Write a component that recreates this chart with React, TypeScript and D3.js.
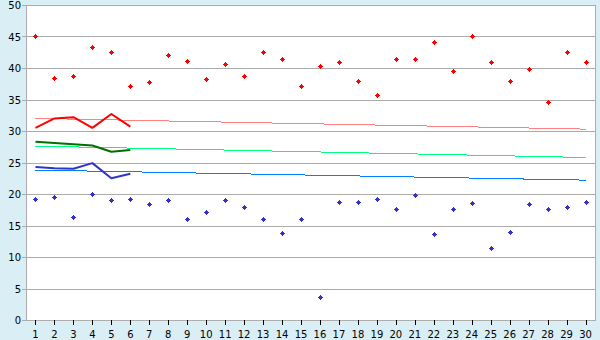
import React from "react";
import * as d3 from "d3";

const categories = d3.range(1, 31);
const redPoints = [45.0, 38.4, 38.8, 43.3, 42.5, 37.1, 37.7, 42.0, 41.1, 38.2, 40.7, 38.8, 42.5, 41.5, 37.1, 40.3, 41.0, 38.0, 35.7, 41.5, 41.5, 44.1, 39.5, 45.0, 41.0, 37.9, 39.8, 34.6, 42.5, 41.0];
const bluePoints = [19.2, 19.5, 16.3, 20.0, 19.0, 19.2, 18.4, 19.0, 16.0, 17.1, 19.0, 17.9, 16.0, 13.8, 16.0, 3.6, 18.8, 18.7, 19.2, 17.6, 19.8, 13.6, 17.6, 18.5, 11.5, 13.9, 18.4, 17.6, 17.9, 18.7];
const redLine = [30.5, 32.0, 32.2, 30.5, 32.7, 30.7];
const greenLine = [28.3, 28.1, 27.9, 27.7, 26.7, 27.0];
const blueLine = [24.3, 24.1, 24.0, 24.9, 22.5, 23.2];
const redTrend = [32.0, 30.3];
const greenTrend = [27.6, 25.8];
const blueTrend = [23.8, 22.2];
const yTicks = [0, 5, 10, 15, 20, 25, 30, 35, 40, 45, 50];

const W = 600, H = 340;
const L = 26, R = 595, T = 5, B = 320;

export default function App() {
  const x = d3.scaleBand<number>().domain(categories).range([L, R]).padding(0);
  const cx = (d: number) => (x(d) as number) + x.bandwidth() / 2;
  const y = d3.scaleLinear().domain([0, 50]).range([B, T]);
  const line = d3.line<number>().x((_, i) => cx(categories[i])).y((v) => y(v));
  const trend = (t: number[]) =>
    d3.line<number>().x((_, i) => cx(i === 0 ? categories[0] : categories[categories.length - 1])).y((v) => y(v))(t) as string;
  const marker = (px: number, py: number) => {
    const sq = `M${px - 1.5},${py - 1.5}h3v3h-3Z`;
    const v = `M${px - 0.5},${py - 2.5}h1v5h-1Z`;
    const h = `M${px - 2.5},${py - 0.5}h5v1h-5Z`;
    return sq + v + h;
  };
  const gray = "#acacac";
  return (
    <>
      <style>{`body{margin:0}`}</style>
      <svg width={W} height={H} style={{ display: "block", fontFamily: "'DejaVu Sans', Verdana, sans-serif" }}>
        <rect x={0} y={0} width={W} height={H} fill="#daeff5" />
        <rect x={L} y={T} width={R - L} height={B - T} fill="#ffffff" />
        {yTicks.map((t) => (
          <g key={t}>
            <line x1={L - 4} x2={t === 0 ? L : R} y1={Math.round(y(t)) + 0.5} y2={Math.round(y(t)) + 0.5} stroke={gray} strokeWidth={1} shapeRendering="crispEdges" />
            <text x={21} y={y(t) + 4} textAnchor="end" fontSize={10} fill="#000">{t}</text>
          </g>
        ))}
        <line x1={L + 0.5} x2={L + 0.5} y1={T} y2={B} stroke={gray} shapeRendering="crispEdges" />
        <line x1={R + 0.5} x2={R + 0.5} y1={T} y2={B + 1} stroke={gray} shapeRendering="crispEdges" />
        <line x1={L} x2={R} y1={B + 0.5} y2={B + 0.5} stroke={gray} shapeRendering="crispEdges" />
        {categories.map((c) => (
          <g key={c}>
            <line x1={Math.round(cx(c)) + 0.5} x2={Math.round(cx(c)) + 0.5} y1={B} y2={B + 5} stroke="#000" shapeRendering="crispEdges" />
            <text x={cx(c)} y={337.5} textAnchor="middle" fontSize={10} fill="#000">{c}</text>
          </g>
        ))}
        <path d={trend(redTrend)} fill="none" stroke="#ff8080" strokeWidth={1} shapeRendering="crispEdges" />
        <path d={trend(greenTrend)} fill="none" stroke="#00ff80" strokeWidth={1} shapeRendering="crispEdges" />
        <path d={trend(blueTrend)} fill="none" stroke="#0080ff" strokeWidth={1} shapeRendering="crispEdges" />
        <path d={line(redLine) as string} fill="none" stroke="#ff0000" strokeWidth={2} strokeLinejoin="round" />
        <path d={line(greenLine) as string} fill="none" stroke="#007000" strokeWidth={2} strokeLinejoin="round" />
        <path d={line(blueLine) as string} fill="none" stroke="#3333cc" strokeWidth={2} strokeLinejoin="round" />
        {redPoints.map((v, i) => (
          <path key={"r" + i} d={marker(Math.round(cx(categories[i])) + 0.5, Math.round(y(v)) + 0.5)} fill="#ff0000" shapeRendering="crispEdges" />
        ))}
        {bluePoints.map((v, i) => (
          <path key={"b" + i} d={marker(Math.round(cx(categories[i])) + 0.5, Math.round(y(v)) + 0.5)} fill="#3333cc" shapeRendering="crispEdges" />
        ))}
      </svg>
    </>
  );
}
